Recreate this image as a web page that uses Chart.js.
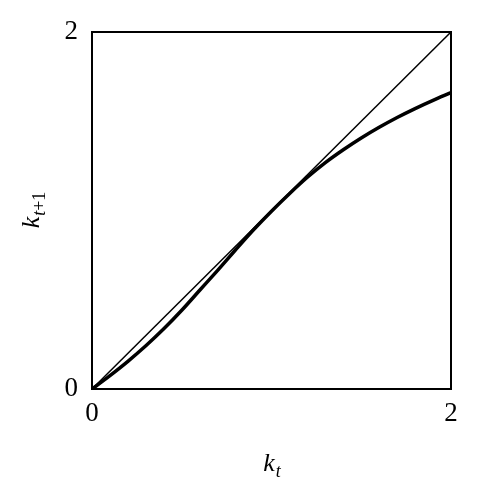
<!DOCTYPE html>
<html>
<head>
<meta charset="utf-8">
<script src="https://cdn.jsdelivr.net/npm/chart.js@4"></script>
<style>
    html, body { margin: 0; padding: 0; background: #fff; }
    #wrap { width: 478px; height: 500px; }
</style>
</head>
<body>
<div id="wrap"><canvas id="mapChart"></canvas></div>
<script>
// capital today -> capital tomorrow
const kToday = [0, 0.1, 0.2, 0.3, 0.4, 0.5, 0.6, 0.7, 0.8, 0.9, 1.0,
                1.1, 1.2, 1.3, 1.4, 1.5, 1.6, 1.7, 1.8, 1.9, 2.0];
const kTomorrow = [0, 0.075, 0.155, 0.242, 0.337, 0.441, 0.553, 0.665, 0.780, 0.892, 0.996,
                   1.094, 1.186, 1.268, 1.340, 1.406, 1.466, 1.521, 1.571, 1.617, 1.660];
// 45 degree line
const diagX = [0, 2];
const diagY = [0, 2];
const axisTicks = [0, 2];

const serif = "'Liberation Serif', 'DejaVu Serif', serif";

function toPoints(xs, ys) {
    return xs.map((x, i) => ({ x: x, y: ys[i] }));
}

// box round the plot + axis titles with subscripts
const frame = {
    id: "frame",
    afterDraw(chart) {
        const ctx = chart.ctx;
        const a = chart.chartArea;
        ctx.save();
        ctx.strokeStyle = "#000";
        ctx.lineWidth = 2;
        ctx.strokeRect(a.left, a.top, a.right - a.left, a.bottom - a.top);

        ctx.fillStyle = "#000";
        ctx.textBaseline = "alphabetic";
        // x title: k_t
        let cx = (a.left + a.right) / 2;
        ctx.font = "italic 26px " + serif;
        let wk = ctx.measureText("k").width;
        ctx.font = "italic 18px " + serif;
        let wt = ctx.measureText("t").width;
        let x0 = cx - (wk + wt) / 2;
        ctx.font = "italic 26px " + serif;
        ctx.fillText("k", x0, 471);
        ctx.font = "italic 18px " + serif;
        ctx.fillText("t", x0 + wk + 1, 477);

        // y title: k_{t+1}, rotated
        ctx.translate(39, (a.top + a.bottom) / 2);
        ctx.rotate(-Math.PI / 2);
        ctx.font = "italic 26px " + serif;
        wk = ctx.measureText("k").width;
        ctx.font = "18px " + serif;
        let ws = ctx.measureText("t+1").width;
        x0 = -(wk + ws) / 2;
        ctx.font = "italic 26px " + serif;
        ctx.fillText("k", x0, 0);
        ctx.font = "italic 18px " + serif;
        ctx.fillText("t", x0 + wk + 1, 6);
        let wt2 = ctx.measureText("t").width;
        ctx.font = "18px " + serif;
        ctx.fillText("+1", x0 + wk + 1 + wt2, 6);
        ctx.restore();
    }
};

new Chart(document.getElementById("mapChart"), {
    type: "scatter",
    data: {
        datasets: [{
            label: "k(t+1)",
            data: toPoints(kToday, kTomorrow),
            showLine: true,
            borderColor: "#000",
            borderWidth: 3.5,
            pointRadius: 0,
            cubicInterpolationMode: "monotone"
        }, {
            label: "45 degree",
            data: toPoints(diagX, diagY),
            showLine: true,
            borderColor: "#000",
            borderWidth: 1.5,
            pointRadius: 0
        }]
    },
    options: {
        responsive: true,
        maintainAspectRatio: false,
        animation: false,
        layout: { padding: { left: 0, top: 32, right: 27, bottom: 0 } },
        plugins: {
            legend: { display: false },
            tooltip: { enabled: false }
        },
        scales: {
            x: {
                type: "linear",
                min: 0,
                max: 2,
                grid: { display: false, drawTicks: false },
                border: { display: false },
                afterBuildTicks: s => { s.ticks = axisTicks.map(v => ({ value: v })); },
                afterFit: s => { s.height = 111; },
                ticks: {
                    color: "#000",
                    padding: 9,
                    maxRotation: 0,
                    font: { family: serif, size: 27 }
                }
            },
            y: {
                type: "linear",
                min: 0,
                max: 2,
                grid: { display: false, drawTicks: false },
                border: { display: false },
                afterBuildTicks: s => { s.ticks = axisTicks.map(v => ({ value: v })); },
                afterFit: s => { s.width = 92; },
                ticks: {
                    color: "#000",
                    padding: 14,
                    font: { family: serif, size: 27 }
                }
            }
        }
    },
    plugins: [frame]
});
</script>
</body>
</html>
